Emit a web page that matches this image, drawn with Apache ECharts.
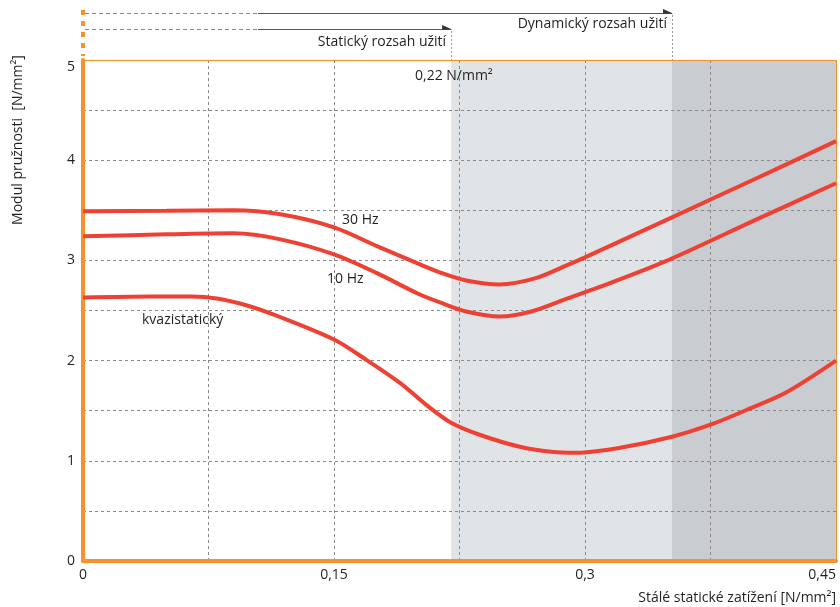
<!DOCTYPE html>
<html><head><meta charset="utf-8">
<script src="https://cdn.jsdelivr.net/npm/echarts@6/dist/echarts.min.js"></script>
<style>html,body{margin:0;padding:0;background:#fff}#c{width:840px;height:607px}</style>
</head><body><div id="c"></div>
<script>
// ---- data ----
const xTicks = [0, 0.15, 0.3, 0.45];
const yTicks = [0, 1, 2, 3, 4, 5];

const x30 = [0, 0.05, 0.09, 0.118, 0.15, 0.176, 0.2, 0.215, 0.229, 0.249, 0.27, 0.289, 0.30, 0.352, 0.40, 0.45];
const y30 = [3.49, 3.495, 3.50, 3.46, 3.33, 3.14, 2.97, 2.87, 2.80, 2.76, 2.82, 2.95, 3.03, 3.43, 3.80, 4.19];

const x10 = [0, 0.05, 0.09, 0.118, 0.15, 0.176, 0.2, 0.215, 0.229, 0.249, 0.268, 0.288, 0.308, 0.348, 0.40, 0.45];
const y10 = [3.24, 3.26, 3.27, 3.21, 3.06, 2.87, 2.67, 2.57, 2.49, 2.44, 2.49, 2.61, 2.73, 2.99, 3.39, 3.77];

const xQs = [0, 0.04, 0.065, 0.08, 0.098, 0.117, 0.15, 0.17, 0.19, 0.205, 0.22, 0.237, 0.261, 0.28, 0.295, 0.321, 0.352, 0.375, 0.397, 0.421, 0.45];
const yQs = [2.63, 2.64, 2.64, 2.62, 2.55, 2.44, 2.21, 2.00, 1.77, 1.56, 1.38, 1.26, 1.14, 1.09, 1.08, 1.13, 1.24, 1.36, 1.51, 1.69, 2.00];

const staticLimit = 0.22;
const dynamicLimit = 0.352;

const seriesNames = ['30 Hz', '10 Hz', 'kvazistatický'];
const texts = {
  yName: 'Modul pružnosti  [N/mm²]',
  xName: 'Stálé statické zatížení [N/mm²]',
  staticRange: 'Statický rozsah užití',
  dynamicRange: 'Dynamický rozsah užití',
  limit: '0,22 N/mm²'
};

// ---- styles ----
const ORANGE = '#f5922e';
const RED = '#ee4134';
const TXT = '#231f20';
const FONT = 'Open Sans';
const zip = (xs, ys) => xs.map((x, i) => [x, ys[i]]);

const chart = echarts.init(document.getElementById('c'), null, {renderer: 'canvas'});

const curve = (name, xs, ys) => ({
  name, type: 'line', data: zip(xs, ys), smooth: 0.3, showSymbol: false, z: 5,
  lineStyle: {color: RED, width: 4}, itemStyle: {color: RED}, silent: true
});

chart.setOption({
  animation: false,
  backgroundColor: '#fff',
  textStyle: {fontFamily: FONT},
  grid: {left: 83, right: 4, top: 60, bottom: 46},
  xAxis: {
    type: 'value', min: 0, max: 0.45, interval: 0.075, z: 3,
    axisLine: {show: true, onZero: false, lineStyle: {color: ORANGE, width: 4}},
    axisTick: {show: false},
    splitLine: {show: true, lineStyle: {color: '#8a8a8a', width: 1, type: [3, 3]}},
    axisLabel: {
      color: TXT, fontSize: 14, fontFamily: FONT, margin: 7, interval: 0,
      alignMaxLabel: 'right',
      formatter: v => {
        const t = xTicks.find(t => Math.abs(t - v) < 1e-9);
        return t === undefined ? '' : String(t).replace('.', ',');
      }
    }
  },
  yAxis: {
    type: 'value', min: 0, max: 5, interval: 0.5, z: 3,
    axisLine: {show: true, onZero: false, lineStyle: {color: ORANGE, width: 4}},
    axisTick: {show: false},
    splitLine: {show: true, lineStyle: {color: '#8a8a8a', width: 1, type: [3, 3]}},
    axisLabel: {
      color: TXT, fontSize: 14, fontFamily: FONT, margin: 8,
      verticalAlignMaxLabel: 'top',
      formatter: v => {
        const t = yTicks.find(t => Math.abs(t - v) < 1e-9);
        return t === undefined ? '' : String(t);
      }
    }
  },
  series: [
    {
      type: 'line', data: [], silent: true, z: 1,
      markArea: {
        silent: true, z: 1,
        data: [
          [{xAxis: staticLimit, itemStyle: {color: '#e1e4e7'}}, {xAxis: 0.45}],
          [{xAxis: dynamicLimit, itemStyle: {color: '#c9cdd1'}}, {xAxis: 0.45}]
        ]
      },
      markLine: {
        silent: true, symbol: 'none', label: {show: false}, z: 4,
        lineStyle: {color: ORANGE, width: 1, type: 'solid'},
        data: [{yAxis: 5}, {xAxis: 0.45}]
      }
    },
    curve(seriesNames[0], x30, y30),
    curve(seriesNames[1], x10, y10),
    curve(seriesNames[2], xQs, yQs)
  ]
});

const px = (x, y) => chart.convertToPixel({gridIndex: 0}, [x, y]);
const [x0, yTop] = px(0, 5);
const xs = px(staticLimit, 5)[0];
const xd = px(dynamicLimit, 5)[0];
const xRight = px(0.45, 0)[0];
const yL1 = 13, yL2 = 29, xBreak = 258;

const line = (x1, y1, x2, y2, stroke, width, dash) => ({
  type: 'line', silent: true, z: 10,
  shape: {x1, y1, x2, y2},
  style: {stroke, lineWidth: width, lineDash: dash || null}
});
const arrow = (x, y) => ({
  type: 'polygon', silent: true, z: 10,
  shape: {points: [[x - 9, y - 4], [x + 1, y + 0.5], [x - 9, y + 0.5]]},
  style: {fill: '#333'}
});
const text = (t, x, y, align, extra) => Object.assign({
  type: 'text', silent: true, z: 10, x, y,
  style: {text: t, fill: TXT, font: '14px "' + FONT + '"', align, verticalAlign: 'middle'}
}, extra || {});

chart.setOption({
  graphic: [
    line(x0, 10, x0, yTop - 4, ORANGE, 4, [5, 6]),
    line(x0 + 2, yL1 + 0.5, xBreak, yL1 + 0.5, '#888', 1, [4, 3]),
    line(xBreak, yL1 + 0.5, xd, yL1 + 0.5, '#555', 1),
    arrow(xd, yL1),
    line(x0 + 2, yL2 + 0.5, xBreak, yL2 + 0.5, '#888', 1, [4, 3]),
    line(xBreak, yL2 + 0.5, xs, yL2 + 0.5, '#555', 1),
    arrow(xs, yL2),
    line(xs + 0.5, yL2 + 2, xs + 0.5, yTop, '#999', 1, [2, 2]),
    line(xd + 0.5, yL1 + 2, xd + 0.5, yTop, '#999', 1, [2, 2]),
    text(texts.dynamicRange, xd - 5, 24, 'right'),
    text(texts.staticRange, xs - 5, 42, 'right'),
    text(texts.limit, 415, 76, 'left'),
    text(seriesNames[0], 342, 220, 'left'),
    text(seriesNames[1], 327, 279, 'left'),
    text(seriesNames[2], 142, 320, 'left'),
    text(texts.xName, xRight, 598, 'right'),
    text(texts.yName, 18, 140, 'center', {rotation: Math.PI / 2})
  ]
});
</script>
</body></html>
